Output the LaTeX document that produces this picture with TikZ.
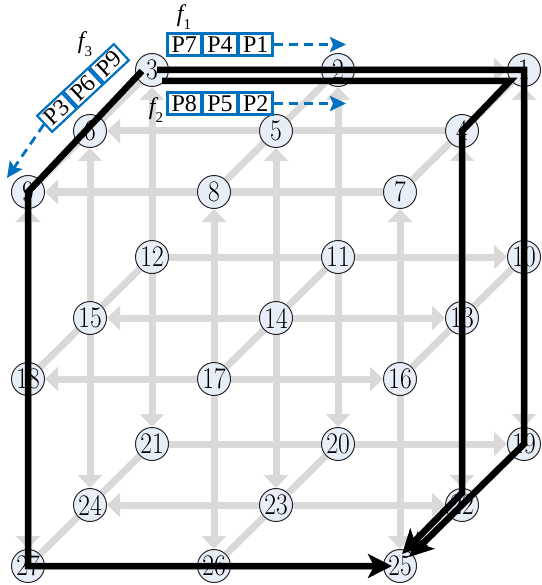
\documentclass[tikz,border=0pt]{standalone}
\usepackage{fontspec}
\newfontfamily\pfont{Liberation Serif}
\usetikzlibrary{arrows.meta,calc}
\pgfdeclarelayer{background}
\pgfdeclarelayer{foreground}
\pgfsetlayers{background,main,foreground}
\definecolor{lg}{HTML}{D9D9D9}
\definecolor{nodefill}{HTML}{E8EEF7}
\definecolor{pblue}{HTML}{0070C0}
\newcommand\numtxt[1]{\scalebox{0.98}[1.15]{\fontsize{26}{26}\selectfont #1}}
\newcommand\flabel[1]{{\pfont\fontsize{24}{24}\selectfont\itshape f\raisebox{-0.35em}{\upshape\fontsize{15}{15}\selectfont #1}}}
\tikzset{
  nd/.style={circle,draw=black!85,line width=1pt,fill=nodefill,minimum size=33pt,inner sep=0pt},
  gl/.style={draw=lg,line width=7pt},
  gtip/.style={-{Triangle[width=24pt,length=13pt]}},
  gboth/.style={{Triangle[width=24pt,length=13pt]}-{Triangle[width=24pt,length=13pt]}},
  bl/.style={draw=black,line width=6.5pt,line join=miter,-{Stealth[length=24pt,width=24pt,inset=6pt]}},
  pbox/.style={draw=pblue,line width=2.2pt,minimum width=33.5pt,minimum height=22pt,inner sep=0pt,font=\pfont\fontsize{24}{24}\selectfont},
  parrow/.style={draw=pblue,line width=2.8pt,dash pattern=on 9pt off 6pt,-{Stealth[length=16pt,width=15pt,inset=3pt]}},
  flab/.style={inner sep=0pt}
}
\begin{document}
\begin{tikzpicture}[x=1pt,y=-1pt]
\useasboundingbox (0,0) rectangle (541,585);
% nodes
\foreach \r in {0,1,2}{
  \foreach \d in {0,1,2}{
    \foreach \c in {0,1,2}{
      \pgfmathtruncatemacro\n{9*\r+3*\d+\c+1}
      \pgfmathsetmacro\xx{524-186*\c-62*\d}
      \pgfmathsetmacro\yy{70+187*\r+61*\d}
      \node[nd] (\n) at (\xx,\yy) {\numtxt{\n}};
    }
  }
}
% gray mesh
\begin{pgfonlayer}{background}
  % vertical
  \foreach \t in {1,...,9}{
    \pgfmathtruncatemacro\b{\t+18}
    \draw[gl,gboth] (\t) -- (\b);
  }
  % depth diagonals
  \foreach \s in {1,2,3,10,11,12,19,20,21}{
    \pgfmathtruncatemacro\e{\s+6}
    \draw[gl] (\s) -- (\e);
  }
  % horizontal
  \draw[gl,gtip] (3) -- (1);
  \draw[gl,gtip] (4) -- (6);
  \draw[gl,gtip] (7) -- (9);
  \draw[gl,gtip] (12) -- (10);
  \draw[gl,gboth] (15) -- (13);
  \draw[gl,gboth] (18) -- (16);
  \draw[gl,gtip] (21) -- (19);
  \draw[gl,gboth] (24) -- (22);
  \draw[gl] (27) -- (25);
\end{pgfonlayer}
% black routes
\begin{pgfonlayer}{foreground}
  \draw[bl] ($(3.center)+(5,0)$) -- (1.center) -- (19.center) -- ($(25.center)+(9,-9)$);
  \draw[bl] ($(3.center)+(10,11)$) -- ($(1.center)+(-14,11)$) -- (4.center) -- ($(22.center)+(0,-12)$) -- ($(25.center)+(2,-12)$);
  \draw[bl] ($(3.center)+(-10,1)$) -- (9.center) -- (27.center) -- ($(25.center)+(-8,0)$);
  % packets f1
  \node[pbox] (p4) at (220,44.5) {P4};
  \node[pbox,anchor=east] (p7) at (p4.west) {P7};
  \node[pbox,anchor=west] (p1) at (p4.east) {P1};
  \coordinate (f1end) at (346,44.5);
  \draw[parrow] (p1.east) -- (f1end);
  \node[flab] (f1) at (184,17) {\flabel{1}};
  % packets f2
  \node[pbox] (p5) at (220,103.5) {P5};
  \node[pbox,anchor=east] (p8) at (p5.west) {P8};
  \node[pbox,anchor=west] (p2) at (p5.east) {P2};
  \coordinate (f2end) at (346,103.5);
  \draw[parrow] (p2.east) -- (f2end);
  \node[flab] (f2) at (156,110) {\flabel{2}};
  % packets f3
  \node[pbox,rotate=43] (p6) at (83,88) {P6};
  \node[pbox,rotate=43,anchor=east] (p3) at (p6.west) {P3};
  \node[pbox,rotate=43,anchor=west] (p9) at (p6.east) {P9};
  \coordinate (f3end) at (7,178);
  \draw[parrow] (p3.west) -- (f3end);
  \node[flab] (f3) at (85,44) {\flabel{3}};
\end{pgfonlayer}
\end{tikzpicture}
\end{document}
